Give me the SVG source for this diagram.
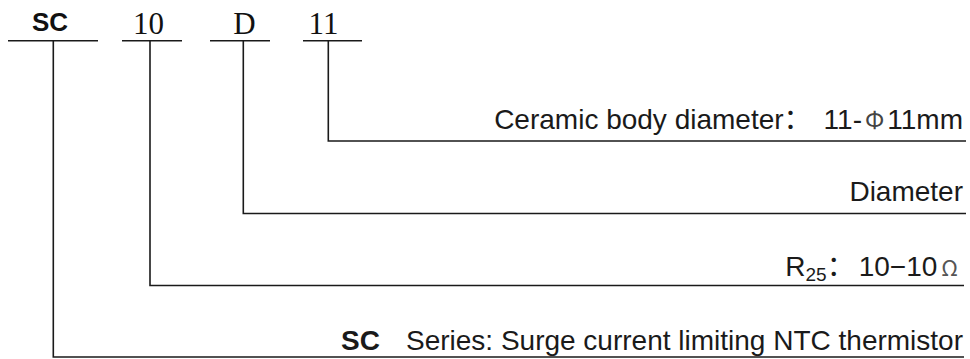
<svg xmlns="http://www.w3.org/2000/svg" width="970" height="359" viewBox="0 0 970 359">
  <style>
    .ln { stroke: #1a1a1a; stroke-width: 1.6; fill: none; }
    .code { font-family: "Liberation Serif", "Times New Roman", serif; font-size: 31px; fill: #111; text-anchor: middle; }
    .codeb { font-family: "Liberation Sans", Arial, sans-serif; font-weight: bold; font-size: 26px; fill: #111; text-anchor: middle; }
    .desc { font-family: "Liberation Sans", Arial, "Noto Sans CJK SC", sans-serif; font-size: 28px; fill: #1a1a1a; text-anchor: end; }
    .cjk { font-family: "Noto Sans CJK SC", sans-serif; }
  </style>
  <rect width="970" height="359" fill="#ffffff"/>

  <!-- code segments along the top -->
  <g id="seg-sc">
    <text class="codeb" x="50" y="31">SC</text>
    <line class="ln" x1="8" y1="40.7" x2="98" y2="40.7"/>
  </g>
  <g id="seg-10">
    <text class="code" x="148.5" y="34">10</text>
    <line class="ln" x1="122" y1="40.7" x2="182" y2="40.7"/>
  </g>
  <g id="seg-d">
    <text class="code" x="244.5" y="34">D</text>
    <line class="ln" x1="210" y1="40.7" x2="270" y2="40.7"/>
  </g>
  <g id="seg-11">
    <text class="code" x="323.5" y="34">11</text>
    <line class="ln" x1="303" y1="40.7" x2="362" y2="40.7"/>
  </g>

  <!-- descriptions on the right -->
  <g id="desc-diameter-body">
    <text class="desc" x="963" y="129">Ceramic body diameter<tspan class="cjk">：</tspan><tspan dx="12">11-</tspan><tspan class="cjk" font-size="24" fill="#444" dx="3">Φ</tspan><tspan dx="3">11mm</tspan></text>
  </g>
  <g id="desc-diameter">
    <text class="desc" x="963" y="201">Diameter</text>
  </g>
  <g id="desc-r25">
    <text class="desc" x="958" y="276">R<tspan font-size="19" dy="5">25</tspan><tspan class="cjk" dy="-5">：</tspan><tspan dx="4">10−10</tspan><tspan class="cjk" font-size="22" fill="#555" dx="4">Ω</tspan></text>
  </g>
  <g id="desc-series">
    <text class="desc" x="341" y="350" style="text-anchor:start" font-weight="bold" font-size="24">SC</text>
    <text class="desc" x="963" y="350" font-size="26.7">Series: Surge current limiting NTC thermistor</text>
  </g>

  <!-- leader lines -->
  <g id="connectors">
    <polyline class="ln" points="328.3,40.7 328.3,141 966,141"/>
    <polyline class="ln" points="243.3,40.7 243.3,213.5 966,213.5"/>
    <polyline class="ln" points="150,40.7 150,285.5 964,285.5"/>
    <polyline class="ln" points="53.3,40.7 53.3,357 964,357"/>
  </g>
</svg>
